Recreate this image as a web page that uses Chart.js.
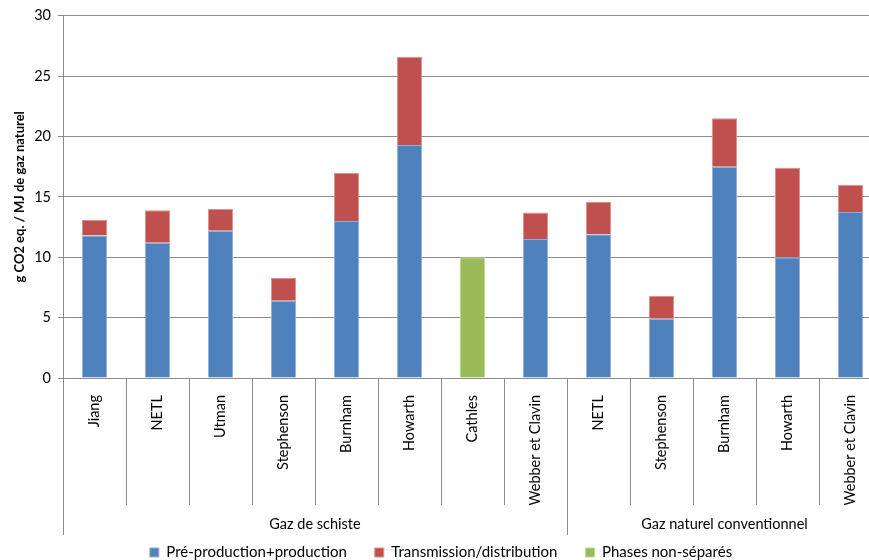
<!DOCTYPE html>
<html>
<head>
<meta charset="utf-8">
<script src="https://cdn.jsdelivr.net/npm/chart.js@4.4.1/dist/chart.umd.min.js"></script>
<style>
  html, body { margin: 0; padding: 0; background: #fff; overflow: hidden; }
  #wrap { width: 900px; height: 560px; }
</style>
</head>
<body>
<div id="wrap"><canvas id="c" width="900" height="560"></canvas></div>
<script>
// Studies compared, grouped by gas type
const categories = ['Jiang', 'NETL', 'Utman', 'Stephenson', 'Burnham', 'Howarth', 'Cathles', 'Webber et Clavin',
                    'NETL', 'Stephenson', 'Burnham', 'Howarth', 'Webber et Clavin'];
const groups = [
  { label: 'Gaz de schiste', start: 0, end: 8 },
  { label: 'Gaz naturel conventionnel', start: 8, end: 13 }
];

// g CO2 eq. / MJ of natural gas, per life-cycle phase
const preProduction = [11.8, 11.2, 12.2, 6.4, 13.0, 19.3, null, 11.5, 11.9, 4.9, 17.5, 10.0, 13.75];
const transmission  = [1.3, 2.7, 1.8, 1.9, 4.0, 7.3, null, 2.2, 2.7, 1.9, 4.0, 7.4, 2.25];
const nonSeparated  = [null, null, null, null, null, null, 10.0, null, null, null, null, null, null];

const yTicks = { min: 0, max: 30, step: 5 };

const FONT = 'Lato, "Open Sans", sans-serif';
const GRID = '#8c8c8c';

// Category separators and group labels beneath the x axis
const groupAxis = {
  id: 'groupAxis',
  afterDraw(chart) {
    const x = chart.scales.x;
    const ctx = chart.ctx;
    const base = chart.chartArea.bottom;
    const half = (x.getPixelForValue(1) - x.getPixelForValue(0)) / 2;
    const edge = i => x.getPixelForValue(i) - half;
    const groupEdges = new Set(groups.flatMap(g => [g.start, g.end]));
    ctx.save();
    ctx.strokeStyle = GRID;
    ctx.lineWidth = 1;
    for (let i = 0; i <= categories.length; i++) {
      const px = Math.round(edge(i)) + 0.5;
      const bottom = groupEdges.has(i) ? base + 157 : base + 127;
      ctx.beginPath();
      ctx.moveTo(px, base);
      ctx.lineTo(px, bottom);
      ctx.stroke();
    }
    ctx.fillStyle = '#000';
    ctx.font = '14.5px ' + FONT;
    ctx.textAlign = 'center';
    ctx.textBaseline = 'middle';
    groups.forEach(g => {
      ctx.fillText(g.label, (edge(g.start) + edge(g.end)) / 2, base + 146);
    });
    ctx.restore();
  }
};

new Chart(document.getElementById('c'), {
  type: 'bar',
  data: {
    labels: categories,
    datasets: [
      { label: 'Pré-production+production', data: preProduction,
        backgroundColor: '#4F81BD', borderColor: '#8eaede', borderWidth: 1 },
      { label: 'Transmission/distribution', data: transmission,
        backgroundColor: '#C0504D', borderColor: '#dc8f8c', borderWidth: 1 },
      { label: 'Phases non-séparés', data: nonSeparated,
        backgroundColor: '#9BBB59', borderColor: '#c0d88f', borderWidth: 1 }
    ]
  },
  options: {
    responsive: false,
    animation: false,
    layout: { padding: { top: 15, right: 18, left: 0, bottom: -10 } },
    datasets: { bar: { categoryPercentage: 1, barPercentage: 0.4 } },
    plugins: {
      legend: {
        position: 'bottom',
        labels: {
          font: { family: FONT, size: 15 },
          color: '#000',
          boxWidth: 9, boxHeight: 9,
          padding: 28
        }
      },
      tooltip: { enabled: false }
    },
    scales: {
      x: {
        stacked: true,
        grid: { display: false },
        border: { display: true, color: GRID },
        ticks: {
          minRotation: 90, maxRotation: 90, autoSkip: false,
          padding: 9,
          font: { family: FONT, size: 14.5 }, color: '#000'
        },
        afterFit(scale) { scale.height = 139; }
      },
      y: {
        stacked: true,
        min: yTicks.min, max: yTicks.max,
        ticks: { stepSize: yTicks.step, padding: 7, font: { family: FONT, size: 14.5 }, color: '#000' },
        grid: { color: GRID, tickLength: 5 },
        border: { color: GRID },
        title: {
          display: true,
          text: 'g CO2 eq. / MJ de gaz naturel',
          font: { family: FONT, size: 13, weight: 'bold' },
          color: '#000',
          padding: { top: 12, bottom: 0 }
        },
        afterFit(scale) { scale.width = 63; }
      }
    }
  },
  plugins: [groupAxis]
});
</script>
</body>
</html>
